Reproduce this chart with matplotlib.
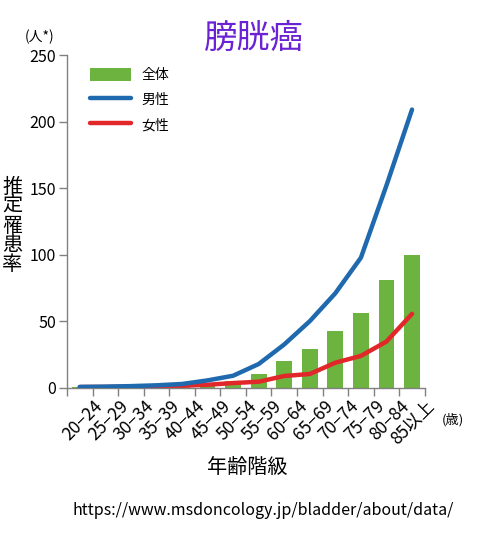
import numpy as np
from matplotlib import pyplot as plt

plt.rcParams['font.family'] = ['Noto Sans CJK JP', 'DejaVu Sans']

ages = ['20−24', '25−29', '30−34', '35−39', '40−44', '45−49', '50−54',
        '55−59', '60−64', '65−69', '70−74', '75−79', '80−84', '85以上']
total = [0.5, 0.7, 1.0, 1.5, 2.0, 3.0, 5.0, 10.3, 19.8, 28.9, 42.3, 55.8, 80.8, 99.8]
male = [0.6, 0.8, 1.2, 1.8, 2.8, 5.5, 9.0, 17.8, 32.5, 50.0, 71.0, 97.7, 152.0, 209.0]
female = [0.5, 0.6, 0.8, 1.0, 1.4, 2.2, 3.5, 4.5, 8.8, 10.3, 18.8, 23.9, 34.7, 55.5]

green = '#6db33f'
blue = '#1f69ae'
red = '#e2272a'
grey = '#808080'

fig = plt.figure(figsize=(4.8, 5.33), dpi=100)
ax = fig.add_axes([0.1396, 0.2726, 0.7454, 0.6242])

x = np.arange(len(ages)) + 0.5
b = ax.bar(x, total, width=0.62, color=green, label='全体', zorder=1)
lm, = ax.plot(x, male, color=blue, lw=3.2, label='男性', zorder=3, solid_capstyle='round')
lf, = ax.plot(x, female, color=red, lw=3.2, label='女性', zorder=2, solid_capstyle='round')

ax.set_xlim(0, len(ages))
ax.set_ylim(0, 250)
ax.set_yticks(range(0, 251, 50))
ax.set_xticks(range(len(ages) + 1))
ax.set_xticklabels([])
for s in ['top', 'right']:
    ax.spines[s].set_visible(False)
for s in ['left', 'bottom']:
    ax.spines[s].set_color(grey)
    ax.spines[s].set_linewidth(1.0)
ax.tick_params(axis='both', colors=grey, length=6, width=1.0, labelcolor='black')
ax.tick_params(axis='y', labelsize=11.5, pad=2)

# rotated category labels, anchored at their right end
for xi, lab in zip(x, ages):
    ax.text(xi + 0.55, -7, lab, rotation=45, ha='right', va='top',
            rotation_mode='anchor', fontsize=12.5, transform=ax.transData)

ax.legend([b, lm, lf], ['全体', '男性', '女性'], loc='upper left',
          bbox_to_anchor=(0.03, 1.0), frameon=False,
          fontsize=10, handlelength=2.9, handleheight=1.15,
          labelspacing=0.75, handletextpad=0.8)

fig.text(0.53, 0.928, '膀胱癌', color='#6a22d4', fontsize=24, ha='center', va='center')
fig.text(0.083, 0.931, '(人*)', fontsize=10, ha='center', va='center')
fig.text(0.026, 0.576, '推\n定\n罹\n患\n率', fontsize=14.5, ha='center', va='center',
         linespacing=0.9)
fig.text(0.943, 0.212, '(歳)', fontsize=9.5, ha='center', va='center')
fig.text(0.515, 0.122, '年齢階級', fontsize=14.5, ha='center', va='center')
fig.text(0.548, 0.043, 'https://www.msdoncology.jp/bladder/about/data/', fontsize=11.5,
         ha='center', va='center')

fig.savefig('out.png', dpi=100)
